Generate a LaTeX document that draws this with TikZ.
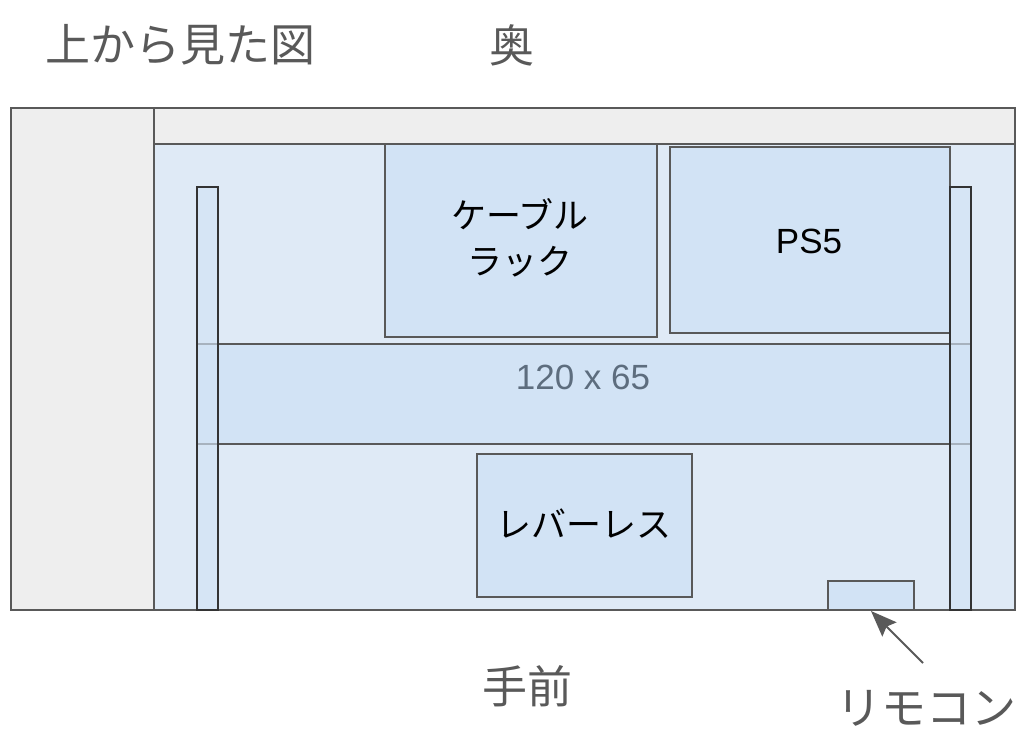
\documentclass[tikz,border=0pt]{standalone}
\usepackage{fontspec}
\setmainfont{Liberation Sans}
\newfontfamily\jpfont{Noto Sans CJK JP}
\usetikzlibrary{positioning,arrows.meta}

\definecolor{linegray}{HTML}{595959}
\definecolor{wallgray}{HTML}{EEEEEE}
\definecolor{floorblue}{HTML}{DFEAF6}
\definecolor{itemblue}{HTML}{D2E3F5}
\definecolor{labelslate}{HTML}{5D6D7E}

\tikzset{
  area/.style = {draw = linegray, line width = 2pt, shape = rectangle, anchor = north west, inner sep = 0pt},
  item/.style = {area, fill = itemblue},
  leg/.style = {area, fill = itemblue, fill opacity = 0.65, draw = black!80, line width = 1.6pt},
  caption/.style = {text = linegray, font = \jpfont\fontsize{45}{52}\selectfont, inner sep = 0pt}
}

\begin{document}
\begin{tikzpicture}[x = 1pt, y = -1pt]
\useasboundingbox (0,0) rectangle (1024,747);
% room
\node[area, fill = wallgray, minimum width = 143pt, minimum height = 502pt] (wall) at (10,107) {};
\node[area, fill = wallgray, minimum width = 861pt, minimum height = 36pt] (backwall) at (153,107) {};
\node[area, fill = floorblue, minimum width = 861pt, minimum height = 466pt] (floor) at (153,143) {};
% furniture
\node[item, minimum width = 272pt, minimum height = 193pt] (rack) at (384,143) {};
\node[font = \jpfont\fontsize{35}{46}\selectfont, align = center] (rack text) at (520,238) {ケーブル\\ラック};
\node[item, minimum width = 280pt, minimum height = 186pt] (ps5) at (669,146) {};
\node[font = \fontsize{35}{40}\selectfont] (ps5 text) at (809,241) {PS5};
\node[item, minimum width = 774pt, minimum height = 100pt] (desk) at (196,343) {};
\node[font = \fontsize{35}{40}\selectfont, text = labelslate] (desk text) at (583,377) {120 x 65};
\node[leg, minimum width = 21pt, minimum height = 423pt] (left leg) at (196,186) {};
\node[leg, minimum width = 21pt, minimum height = 423pt] (right leg) at (949,186) {};
\node[item, minimum width = 215pt, minimum height = 143pt] (lever) at (476,453) {};
\node[font = \jpfont\fontsize{35}{40}\selectfont] (lever text) at (584,524) {レバーレス};
\node[item, minimum width = 86pt, minimum height = 29pt] (remote) at (827,580) {};
% labels
\node[caption, anchor = west] (title) at (45,45) {上から見た図};
\node[caption] (back) at (512,45) {奥};
\node[caption] (front) at (527,686) {手前};
\node[caption] (remote label) at (926,708) {リモコン};
\coordinate (remote tail) at (923,663);
\draw[draw = linegray, line width = 2pt, -{Stealth[length = 26pt, width = 20pt, inset = 4pt]}] (remote tail) -- (remote.south);
\end{tikzpicture}
\end{document}
